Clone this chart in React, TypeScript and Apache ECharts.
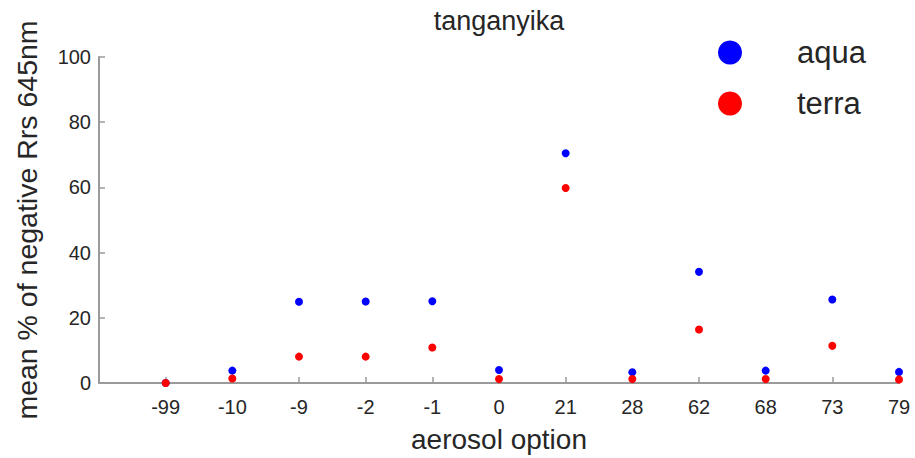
import React, { useEffect, useRef } from "react";
import * as echarts from "echarts";

const categories = ["-99", "-10", "-9", "-2", "-1", "0", "21", "28", "62", "68", "73", "79"];
const aquaValues = [0, 3.8, 24.9, 25, 25.1, 4.0, 70.5, 3.3, 34.1, 3.8, 25.6, 3.4];
const terraValues = [0, 1.4, 8.1, 8.1, 10.9, 1.2, 59.8, 1.2, 16.4, 1.2, 11.4, 1.1];
const yTicks = [0, 20, 40, 60, 80, 100];

const FONT = "'Liberation Sans', Arial, Helvetica, sans-serif";
const TEXT = "#262626";
const AXIS = "#9a9a9a";

export default function App() {
  const ref = useRef<HTMLDivElement>(null);
  useEffect(() => {
    if (!ref.current) return;
    const chart = echarts.init(ref.current, undefined, { renderer: "svg" });
    const toPoints = (vals: number[]) => vals.map((v, i) => [i + 1, v]);
    chart.setOption({
      animation: false,
      backgroundColor: "#ffffff",
      textStyle: { fontFamily: FONT },
      title: {
        text: "tanganyika",
        left: 499,
        textAlign: "center",
        top: 7,
        padding: 0,
        textStyle: { fontSize: 27, fontWeight: "normal", color: TEXT, fontFamily: FONT },
      },
      legend: {
        orient: "vertical",
        left: 718,
        top: 37,
        padding: 0,
        itemWidth: 24,
        itemHeight: 24,
        itemGap: 20,
        icon: "circle",
        data: ["aqua", "terra"],
        itemStyle: { opacity: 1 },
        textStyle: {
          fontSize: 31,
          color: TEXT,
          fontFamily: FONT,
          lineHeight: 30,
          padding: [0, 0, 0, 50],
        },
      },
      grid: { left: 99, right: 16, top: 57, bottom: 68, containLabel: false },
      xAxis: {
        type: "value",
        min: 0,
        max: categories.length,
        interval: 1,
        name: "aerosol option",
        nameLocation: "middle",
        nameGap: 42,
        nameTextStyle: { fontSize: 28, color: TEXT, fontFamily: FONT },
        axisLine: { show: true, lineStyle: { color: AXIS, width: 2 } },
        axisTick: {
          show: true,
          inside: true,
          length: 6,
          lineStyle: { color: AXIS, width: 1.5 },
        },
        axisLabel: {
          fontSize: 20,
          color: TEXT,
          margin: 14,
          fontFamily: FONT,
          showMinLabel: false,
          formatter: (v: number) => (v >= 1 && v <= categories.length ? categories[v - 1] : ""),
        },
        splitLine: { show: false },
      },
      yAxis: {
        type: "value",
        min: yTicks[0],
        max: yTicks[yTicks.length - 1],
        interval: 20,
        name: "mean % of negative Rrs 645nm",
        nameLocation: "middle",
        nameGap: 58,
        nameTextStyle: { fontSize: 28.5, color: TEXT, fontFamily: FONT },
        axisLine: { show: true, lineStyle: { color: AXIS, width: 2 } },
        axisTick: {
          show: true,
          inside: true,
          length: 6,
          lineStyle: { color: AXIS, width: 1.5 },
        },
        axisLabel: { fontSize: 20, color: TEXT, margin: 8, fontFamily: FONT },
        splitLine: { show: false },
      },
      series: [
        {
          name: "aqua",
          type: "scatter",
          data: toPoints(aquaValues),
          symbol: "circle",
          symbolSize: 8,
          itemStyle: { color: "#0000ff", opacity: 1 },
        },
        {
          name: "terra",
          type: "scatter",
          data: toPoints(terraValues),
          symbol: "circle",
          symbolSize: 8,
          itemStyle: { color: "#ff0000", opacity: 1 },
        },
      ],
    });
    return () => chart.dispose();
  }, []);
  return (
    <div
      ref={ref}
      style={{ position: "fixed", left: 0, top: 0, width: 915, height: 458, background: "#fff" }}
    />
  );
}
